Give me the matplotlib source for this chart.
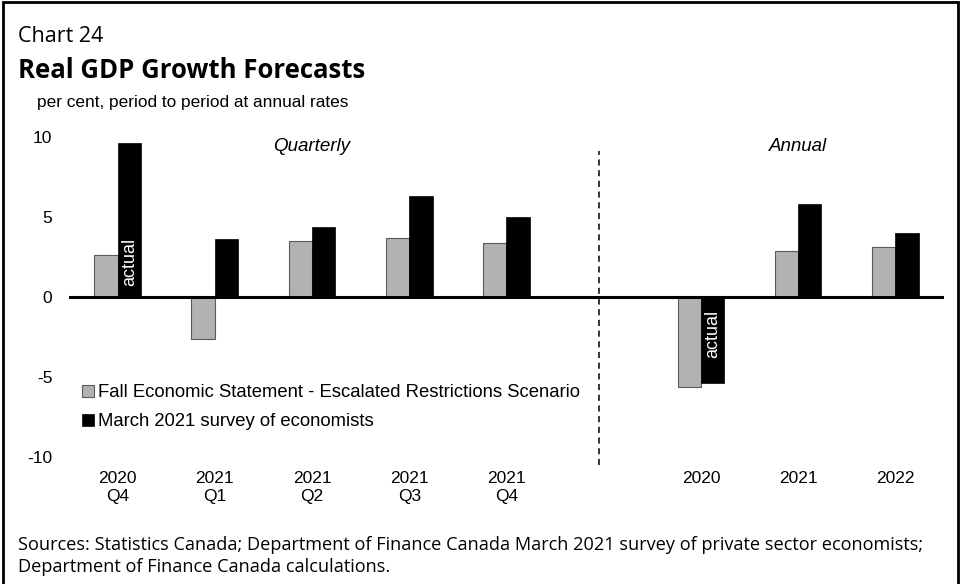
import numpy as np
import matplotlib
matplotlib.use("Agg")
import matplotlib.pyplot as plt
from matplotlib.patches import Rectangle

plt.rcParams["axes.unicode_minus"] = False

# ── Data ──
categories = ["2020\nQ4", "2021\nQ1", "2021\nQ2", "2021\nQ3", "2021\nQ4", "",
              "2020", "2021", "2022"]
fes_values = [2.6, -2.6, 3.5, 3.7, 3.4, np.nan, -5.6, 2.9, 3.1]
survey_values = [9.6, 3.6, 4.4, 6.3, 5.0, np.nan, -5.4, 5.8, 4.0]
actual_idx = [0, 6]
fes_label = "Fall Economic Statement - Escalated Restrictions Scenario"
survey_label = "March 2021 survey of economists"

x = np.arange(len(categories))
w = 0.24
arial = "Liberation Sans"

fig = plt.figure(figsize=(9.61, 5.84), dpi=100)
ax = fig.add_axes([0.0718, 0.2175, 0.9105, 0.548])

ax.bar(x - w / 2, fes_values, w, color="#b2b2b2", edgecolor="#5a5a5a",
       linewidth=0.8, label=fes_label, zorder=2)
ax.bar(x + w / 2, survey_values, w, color="black", edgecolor="black",
       linewidth=0.5, label=survey_label, zorder=2)

for i in actual_idx:
    v = survey_values[i]
    ax.text(x[i] + w / 2, 2.2 if v > 0 else -2.3, "actual", rotation=90,
            color="white", ha="center", va="center", fontsize=13,
            family=arial, zorder=3)

ax.axhline(0, color="black", linewidth=2.2, zorder=3)
ax.axvline(x[5] - 0.05, ymin=-0.025, ymax=0.955, color="black",
           linestyle=(0, (4, 3)), linewidth=1.1, clip_on=False, zorder=1)

ax.text(2, 9.4, "Quarterly", style="italic", ha="center", va="center",
        fontsize=13.5, family=arial)
ax.text(7, 9.4, "Annual", style="italic", ha="center", va="center",
        fontsize=13.5, family=arial)

ax.set_xlim(-0.5, 8.5)
ax.set_ylim(-10, 10)
ax.set_yticks([-10, -5, 0, 5, 10])
ax.set_xticks(x)
ax.set_xticklabels(categories)
ax.tick_params(axis="both", length=0, labelsize=12.5)
ax.tick_params(axis="y", pad=12)
ax.tick_params(axis="x", pad=10)
for lbl in ax.get_xticklabels() + ax.get_yticklabels():
    lbl.set_family(arial)
    lbl.set_linespacing(1.3)
for s in ax.spines.values():
    s.set_visible(False)

ax.legend(loc="upper left", bbox_to_anchor=(0.015, 0.227), frameon=False,
          prop={"family": arial, "size": 13.3},
          handlelength=0.65, handleheight=0.65, handletextpad=0.2,
          labelspacing=0.65, borderaxespad=0, borderpad=0)

# ── Titles and notes ──
fig.text(0.019, 0.937, "Chart 24", fontsize=15.5, family="Open Sans",
         va="center", ha="left")
fig.text(0.019, 0.88, "Real GDP Growth Forecasts", fontsize=18.5,
         family="Open Sans", fontweight="bold", va="center", ha="left")
fig.text(0.038, 0.824, "per cent, period to period at annual rates",
         fontsize=12.4, family=arial, va="center", ha="left")
fig.text(0.019, 0.048, "Sources: Statistics Canada; Department of Finance Canada "
         "March 2021 survey of private sector economists;\n"
         "Department of Finance Canada calculations.",
         fontsize=13.1, family="Open Sans", va="center", ha="left",
         linespacing=1.3)

fig.patches.append(Rectangle((0.003, -0.05), 0.994, 1.046,
                             transform=fig.transFigure, fill=False,
                             edgecolor="black", linewidth=2))

fig.savefig("out.png", dpi=100)
